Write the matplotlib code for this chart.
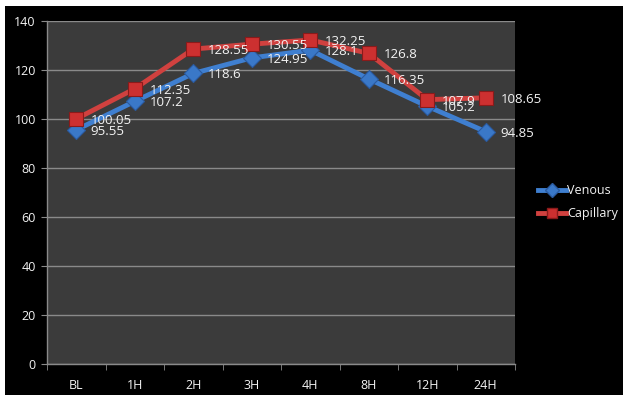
import matplotlib
matplotlib.use("Agg")
import matplotlib.pyplot as plt
from matplotlib.patches import Rectangle
from matplotlib.lines import Line2D

categories = ["BL", "1H", "2H", "3H", "4H", "8H", "12H", "24H"]
venous = [95.55, 107.2, 118.6, 124.95, 128.1, 116.35, 105.2, 94.85]
capillary = [100.05, 112.35, 128.55, 130.55, 132.25, 126.8, 107.9, 108.65]
venous_labels = ["95.55", "107.2", "118.6", "124.95", "128.1", "116.35", "105.2", "94.85"]
capillary_labels = ["100.05", "112.35", "128.55", "130.55", "132.25", "126.8", "107.9", "108.65"]
yticks = [0, 20, 40, 60, 80, 100, 120, 140]

plt.rcParams['font.family'] = ['Open Sans', 'DejaVu Sans']

W, H = 623, 395
fig = plt.figure(figsize=(W / 100, H / 100), dpi=100, facecolor="#000000")
# white strips at top and left
fig.patches.append(Rectangle((0, 1 - 6 / H), 1, 6 / H, transform=fig.transFigure,
                             facecolor="white", edgecolor="none", zorder=0))
fig.patches.append(Rectangle((0, 0), 5 / W, 1, transform=fig.transFigure,
                             facecolor="white", edgecolor="none", zorder=0))

ax = fig.add_axes([47 / W, 1 - 364 / H, (515 - 47) / W, (364 - 21) / H])
ax.set_facecolor("#3b3b3b")

x = list(range(len(categories)))
blue = "#3f7fd0"
red = "#d0413f"
ax.plot(x, venous, color=blue, lw=3.5, marker="D", markersize=9,
        markerfacecolor="#3a78c8", markeredgecolor="#2a5aa0", markeredgewidth=0.8,
        zorder=3, label="Venous")
ax.plot(x, capillary, color=red, lw=3.5, marker="s", markersize=10,
        markerfacecolor="#cc3030", markeredgecolor="#8a1a1a", markeredgewidth=0.8,
        zorder=4, label="Capillary")

for xi, v, lab in zip(x, venous, venous_labels):
    ax.annotate(lab, (xi, v), xytext=(10.5, -1), textcoords="offset points",
                ha="left", va="center", color="#f4f4f4", fontsize=9.5, zorder=5)
for xi, v, lab in zip(x, capillary, capillary_labels):
    ax.annotate(lab, (xi, v), xytext=(10.5, -1), textcoords="offset points",
                ha="left", va="center", color="#f4f4f4", fontsize=9.5, zorder=5)

ax.set_xlim(-0.5, len(categories) - 0.5)
ax.set_ylim(0, 140)
ax.set_yticks(yticks)
ax.set_yticklabels([str(t) for t in yticks])
ax.yaxis.grid(True, color="#8a8a8a", lw=1)
ax.set_axisbelow(True)

ax.set_xticks(x)
ax.set_xticklabels(categories)
ax.set_xticks([i - 0.5 for i in range(len(categories) + 1)], minor=True)
ax.tick_params(axis="x", which="major", length=0, pad=11, colors="#f4f4f4", labelsize=9)
ax.tick_params(axis="x", which="minor", length=4, color="#8a8a8a", direction="out")
ax.tick_params(axis="y", length=4, color="#8a8a8a", labelcolor="#f4f4f4", labelsize=9, pad=4)

for s in ["top", "right"]:
    ax.spines[s].set_visible(False)
for s in ["left", "bottom"]:
    ax.spines[s].set_color("#8a8a8a")
    ax.spines[s].set_linewidth(1)

handles = [
    Line2D([], [], color=blue, lw=3.5, marker="D", markersize=7,
           markerfacecolor="#3a78c8", markeredgecolor="#2a5aa0"),
    Line2D([], [], color=red, lw=3.5, marker="s", markersize=7,
           markerfacecolor="#cc3030", markeredgecolor="#8a1a1a"),
]
leg = fig.legend(handles, ["Venous", "Capillary"], loc="center left",
                 bbox_to_anchor=(533 / W, 1 - 202 / H), frameon=False,
                 fontsize=9, labelcolor="#f4f4f4", handlelength=2.2,
                 handletextpad=0.1, labelspacing=0.8, borderaxespad=0)

fig.savefig("out.png", dpi=100, facecolor=fig.get_facecolor())
